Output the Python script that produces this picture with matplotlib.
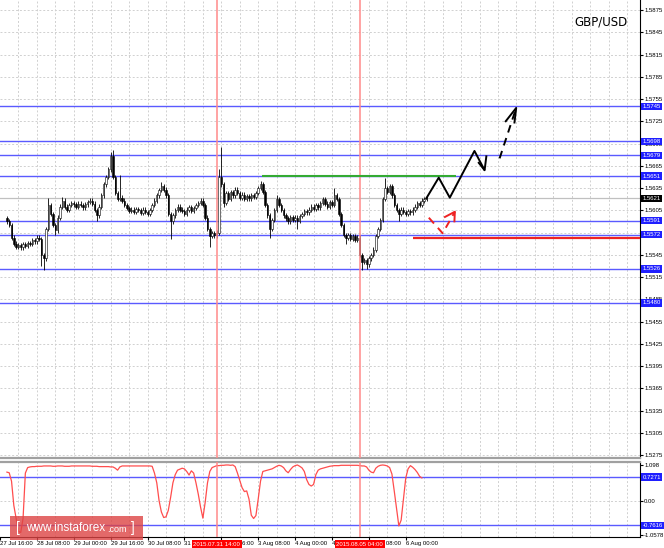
import matplotlib
matplotlib.use("Agg")
import matplotlib.pyplot as plt
import matplotlib.transforms as mtransforms
import numpy as np

# H1 bars, index 0 = 27 Jul 00:00 (trading hours only)
first_bar = 19
closes = [
    1.5590, 1.5585, 1.5568, 1.5560, 1.5556, 1.5558, 1.5555, 1.5559, 1.5557, 1.5561,
    1.5560, 1.5565, 1.5563, 1.5568, 1.5566, 1.5545, 1.5540, 1.5580, 1.5612, 1.5600,
    1.5585, 1.5578, 1.5595, 1.5610, 1.5618, 1.5610, 1.5605, 1.5612, 1.5615, 1.5613,
    1.5610, 1.5614, 1.5612, 1.5609, 1.5613, 1.5616, 1.5618, 1.5614, 1.5605, 1.5598,
    1.5610, 1.5625, 1.5640, 1.5650, 1.5660, 1.5678, 1.5650, 1.5628, 1.5620, 1.5622,
    1.5618, 1.5612, 1.5608, 1.5604, 1.5606, 1.5603, 1.5607, 1.5605, 1.5601, 1.5606,
    1.5603, 1.5600, 1.5605, 1.5612, 1.5618, 1.5625, 1.5632, 1.5638, 1.5633, 1.5625,
    1.5600, 1.5590, 1.5598, 1.5605, 1.5610, 1.5606, 1.5604, 1.5600, 1.5606, 1.5609,
    1.5604, 1.5608, 1.5612, 1.5615, 1.5618, 1.5612, 1.5595, 1.5580, 1.5570, 1.5574,
    1.5571, 1.5575, 1.5650, 1.5640, 1.5615, 1.5628, 1.5620, 1.5630, 1.5625, 1.5633,
    1.5628, 1.5622, 1.5626, 1.5620, 1.5624, 1.5621, 1.5625, 1.5623, 1.5628, 1.5635,
    1.5640, 1.5630, 1.5612, 1.5598, 1.5580, 1.5592, 1.5605, 1.5620, 1.5612, 1.5605,
    1.5598, 1.5594, 1.5590, 1.5596, 1.5592, 1.5595, 1.5591, 1.5597, 1.5600, 1.5604,
    1.5602, 1.5606, 1.5610, 1.5607, 1.5612, 1.5609, 1.5615, 1.5620, 1.5614, 1.5610,
    1.5616, 1.5612, 1.5625, 1.5620, 1.5600, 1.5585, 1.5572, 1.5568, 1.5572, 1.5566,
    1.5570, 1.5565, 1.5568, 1.5545, 1.5535, 1.5538, 1.5532, 1.5540, 1.5545, 1.5552,
    1.5570, 1.5580, 1.5592, 1.5620, 1.5635, 1.5630, 1.5638, 1.5625, 1.5612, 1.5605,
    1.5600, 1.5606, 1.5603, 1.5600, 1.5604, 1.5602, 1.5606, 1.5610, 1.5615, 1.5612,
    1.5618, 1.5620, 1.5621,
]
spike_hi = {37: 1.5622, 43: 1.5623, 64: 1.5684, 65: 1.5686, 68: 1.5653, 86: 1.5643,
            111: 1.5660, 112: 1.5690, 129: 1.5645, 136: 1.5626, 161: 1.5635, 183: 1.5648}
spike_lo = {34: 1.5530, 35: 1.5524, 40: 1.5572, 58: 1.5590, 90: 1.5566, 107: 1.5555,
            113: 1.5610, 133: 1.5567, 145: 1.5580, 166: 1.5560, 173: 1.5524, 175: 1.5526,
            189: 1.5590}

levels = [1.5745, 1.5698, 1.5679, 1.5651, 1.5591, 1.5572, 1.5526, 1.5480]
current_price = 1.5621
green_level = 1.5651
green_span = (129.6, 214.0)
red_level = 1.5568
red_start = 195.2
event_bars = [110, 172]
event_labels = ["2015.07.31 14:00", "2015.08.05 04:00"]

# forecast drawings (bar, price)
path_up = [(200.7, 1.5620), (206.3, 1.5649), (211.1, 1.5622), (221.8, 1.5685), (226.2, 1.5659)]
head_up = [(223.4, 1.5670), (226.2, 1.5659), (227.0, 1.5679)]
dash_up = [(232.7, 1.5675), (239.9, 1.5743)]
dash_head = [(235.1, 1.5724), (239.9, 1.5743), (239.1, 1.5722)]
red_path = [(202.0, 1.5595), (208.0, 1.5574), (213.3, 1.5603)]
red_head = [(209.0, 1.5596), (213.3, 1.5603), (213.1, 1.5590)]

# oscillator, same bars from first_bar
ind_values = [
    0.88, 0.86, 0.60, -0.15, -0.55, -0.95, -0.98, -0.55, 0.85, 1.02,
    1.04, 1.05, 1.05, 1.06, 1.06, 1.06, 1.07, 1.07, 1.07, 1.07,
    1.06, 1.06, 1.07, 1.07, 1.07, 1.06, 1.06, 1.06, 1.07, 1.07,
    1.07, 1.07, 1.07, 1.07, 1.07, 1.07, 1.07, 1.06, 1.06, 1.06,
    1.05, 1.05, 1.05, 1.05, 1.05, 1.04, 1.04, 1.00, 0.94, 1.04,
    1.07, 1.07, 1.07, 1.07, 1.07, 1.07, 1.07, 1.07, 1.07, 1.07,
    1.07, 1.07, 1.07, 1.06, 0.85, 0.55, 0.00, -0.35, -0.52, -0.50,
    -0.30, 0.10, 0.55, 0.80, 0.94, 0.97, 1.00, 0.98, 0.90, 0.79,
    0.92, 0.85, 0.55, 0.20, -0.20, -0.54, -0.05, 0.55, 0.90, 1.02,
    1.05, 1.08, 1.08, 1.09, 1.09, 1.10, 1.10, 1.09, 1.10, 1.05,
    0.85, 0.62, 0.40, 0.28, 0.30, 0.05, -0.45, -0.55, -0.46, 0.05,
    0.60, 0.90, 0.92, 0.94, 0.96, 0.98, 1.02, 1.06, 1.09, 1.07,
    1.02, 0.92, 0.86, 0.96, 1.04, 1.08, 1.10, 1.06, 1.01, 0.90,
    0.65, 0.50, 0.45, 0.50, 0.80, 0.94, 0.98, 1.00, 1.02, 1.04,
    1.06, 1.07, 1.08, 1.08, 1.08, 1.09, 1.09, 1.09, 1.09, 1.09,
    1.09, 1.09, 1.09, 1.08, 1.07, 1.07, 1.04, 0.94, 0.88, 0.86,
    1.00, 1.06, 1.09, 1.10, 1.09, 1.07, 1.02, 0.82, 0.30, -0.25,
    -0.78, -0.60, 0.05, 0.70, 0.98, 1.08, 1.03, 0.96, 0.87, 0.75,
    0.70,
]
ind_levels = [0.7271, -0.7616]
ind_ticks = [1.098, 0.0, -1.0578]
ind_tick_labels = ["1.098", "0.00", "-1.0578"]
trade_days = ["27 Jul", "28 Jul", "29 Jul", "30 Jul", "31 Jul", "3 Aug", "4 Aug", "5 Aug", "6 Aug"]
label_bars = list(range(16, 193, 16))

SMALL = "Liberation Sans"
FS = 4.3

W, H = 664, 548
fig = plt.figure(figsize=(W / 100, H / 100), dpi=100)
ax = fig.add_axes([0, (H - 458) / H, 640 / W, 458 / H])
ax2 = fig.add_axes([0, (H - 537) / H, 640 / W, 75 / H], sharex=ax)

xmin, xmax = 18.37, 293.6
ax.set_xlim(xmin, xmax)
ax.set_ylim(1.52710, 1.58885)
ax2.set_ylim(-1.121, 1.192)

grid_kw = dict(color="#d0d0d0", lw=0.7, ls=(0, (2, 2)), zorder=0)
price_ticks = np.round(np.arange(1.5275, 1.58751, 0.003), 4)
for p in price_ticks:
    ax.axhline(p, **grid_kw)
for g in range(24, 294, 8):
    ax.axvline(g, **grid_kw)
    ax2.axvline(g, **grid_kw)
ax2.axhline(0.0, **grid_kw)

# levels
for lv in levels:
    ax.axhline(lv, color="#5a5aff", lw=1.0, zorder=1)
ax.axhline(current_price, color="#c0c0c0", lw=0.9, zorder=1)
for lv in ind_levels:
    ax2.axhline(lv, color="#5a5aff", lw=1.0, zorder=1)
for eb in event_bars:
    ax.axvline(eb, color="#ff8a8a", lw=1.1, zorder=4)
    ax2.axvline(eb, color="#ff8a8a", lw=1.1, zorder=4)

# candles
bars = np.arange(first_bar, first_bar + len(closes))
opens = [1.5594] + closes[:-1]
highs, lows, fcs = [], [], []
for b, o, c in zip(bars, opens, closes):
    highs.append(spike_hi.get(b, max(o, c) + 0.0003))
    lows.append(spike_lo.get(b, min(o, c) - 0.0003))
    fcs.append("white" if c >= o else "black")
ax.vlines(bars, lows, highs, color="black", lw=0.6, zorder=3)
bh = [max(abs(c - o), 0.00006) for o, c in zip(opens, closes)]
ax.bar(bars, bh, bottom=np.minimum(opens, closes), width=0.62, color=fcs,
       edgecolor="black", linewidth=0.4, zorder=3)

# drawings
ax.hlines(green_level, *green_span, color="#33aa33", lw=1.5, zorder=5)
ax.hlines(red_level, red_start, xmax, color="#ee2222", lw=1.6, zorder=5)
for pts, ls in [(path_up, "-"), (head_up, "-"), (dash_up, (0, (4, 3))), (dash_head, "-")]:
    xs, ys = zip(*pts)
    ax.plot(xs, ys, color="black", lw=1.4, ls=ls, zorder=6, solid_capstyle="butt")
for pts, ls in [(red_path, (0, (4, 3))), (red_head, "-")]:
    xs, ys = zip(*pts)
    ax.plot(xs, ys, color="#ee2222", lw=1.4, ls=ls, zorder=6)

# oscillator
ind_bars = bars[:len(ind_values)]
ax2.plot(ind_bars, ind_values, color="#ff4d4d", lw=0.9, zorder=3)

# axes styling
for a in (ax, ax2):
    for s in ("left", "top"):
        a.spines[s].set_visible(False)
    a.spines["right"].set_color("black")
    a.yaxis.tick_right()
    a.tick_params(axis="y", labelsize=FS, length=2, pad=1, colors="black")
ax.spines["bottom"].set_color("#a0a0a0")
ax.spines["bottom"].set_linewidth(1.6)
ax2.spines["top"].set_visible(True)
ax2.spines["top"].set_color("#a0a0a0")
ax2.spines["top"].set_linewidth(1.6)
ax.tick_params(axis="x", bottom=False, labelbottom=False)

ax.set_yticks(price_ticks)
ax.set_yticklabels([f"{p:.4f}" for p in price_ticks], family=SMALL)
ax2.set_yticks(ind_ticks)
ax2.set_yticklabels(ind_tick_labels, family=SMALL)

ax2.set_xticks(label_bars)
ax2.set_xticklabels([f"{trade_days[b // 24]} {b % 24:02d}:00" for b in label_bars], family=SMALL)
ax2.tick_params(axis="x", labelsize=FS, length=2, pad=1)
for t in ax2.get_xticklabels():
    t.set_horizontalalignment("left")

# value boxes on the price scale
box_kw = dict(fontsize=FS, family=SMALL, color="white", va="center", ha="left",
              zorder=10, clip_on=False)
tr = mtransforms.blended_transform_factory(ax.transAxes, ax.transData)
for lv in levels:
    ax.text(1.004, lv, f"{lv:.4f}", transform=tr,
            bbox=dict(boxstyle="square,pad=0.2", fc="#1f1fff", ec="none"), **box_kw)
ax.text(1.004, current_price, f"{current_price:.4f}", transform=tr,
        bbox=dict(boxstyle="square,pad=0.2", fc="black", ec="none"), **box_kw)
tr2 = mtransforms.blended_transform_factory(ax2.transAxes, ax2.transData)
for lv in ind_levels:
    ax2.text(1.004, lv, f"{lv:.4f}", transform=tr2,
             bbox=dict(boxstyle="square,pad=0.2", fc="#1f1fff", ec="none"), **box_kw)

trx = mtransforms.blended_transform_factory(ax2.transData, ax2.transAxes)
for eb, lab in zip(event_bars, event_labels):
    ax2.text(eb, -0.06, lab, transform=trx, fontsize=FS, family=SMALL, color="white",
             va="top", ha="center", zorder=10, clip_on=False,
             bbox=dict(boxstyle="square,pad=0.25", fc="#ff0000", ec="none"))

fig.text(628 / W, 1 - 22 / H, "GBP/USD", fontsize=8.5, ha="right", va="center", color="black")

# logo
fig.patches.append(plt.Rectangle((10 / W, 1 - 540 / H), 133 / W, 24 / H, transform=fig.transFigure,
                                 facecolor="#dd4444", alpha=0.8, edgecolor="none", zorder=20))
fig.text(16 / W, 1 - 528 / H, "[", fontsize=10, family=SMALL, color="white", va="center", zorder=21)
fig.text(26 / W, 1 - 528 / H, "www.instaforex", fontsize=8.5, family=SMALL, color="white",
         va="center", zorder=21)
fig.text(107 / W, 1 - 529 / H, ".com", fontsize=6.5, family=SMALL, color="white", va="center",
         zorder=21)
fig.text(131 / W, 1 - 528 / H, "]", fontsize=10, family=SMALL, color="white", va="center", zorder=21)

fig.savefig("out.png", dpi=100)
